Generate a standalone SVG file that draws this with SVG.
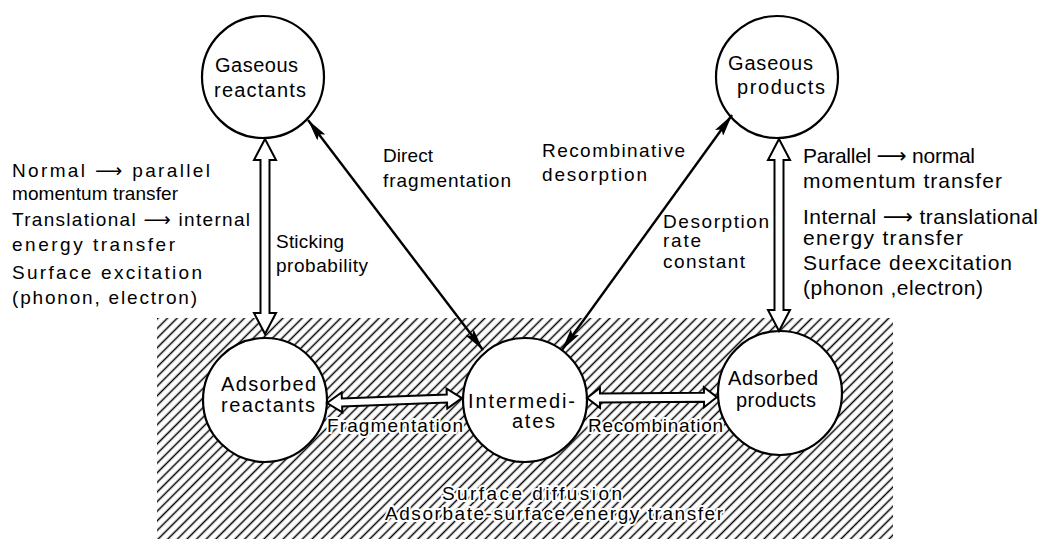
<svg xmlns="http://www.w3.org/2000/svg" width="1041" height="543" viewBox="0 0 1041 543">
<defs>
<pattern id="hatch" width="6.8" height="10" patternUnits="userSpaceOnUse" patternTransform="rotate(45)">
<line x1="3.4" y1="0" x2="3.4" y2="10" stroke="#000" stroke-width="1.5"/>
</pattern>
<marker id="ah" viewBox="0 0 22 10" refX="22" refY="5" markerWidth="22" markerHeight="10" markerUnits="userSpaceOnUse" orient="auto-start-reverse">
<path d="M0,0 L22,5 L0,10 L4,5 z" fill="#000"/>
</marker>
<style>
text{font-family:"Liberation Sans","DejaVu Sans",sans-serif;fill:#000;}
.n{font-size:20px;}
.l{font-size:19px;}
.r{font-size:21px;}
.halo{stroke:#fff;stroke-width:4px;paint-order:stroke;stroke-linejoin:round;}
circle{fill:#fff;stroke:#000;stroke-width:2.2;}
.hollow{fill:#fff;stroke:#000;stroke-width:2;stroke-linejoin:miter;}
.solid{stroke:#000;stroke-width:2.4;fill:none;marker-start:url(#ah);marker-end:url(#ah);}
</style>
</defs>
<rect width="1041" height="543" fill="#fff"/>
<rect id="surface" x="157" y="318" width="736" height="221" fill="url(#hatch)"/>

<g id="gaseous-reactants">
<circle cx="263" cy="77" r="61"/>
<text class="n" x="215" y="72" textLength="83">Gaseous</text>
<text class="n" x="214" y="97" textLength="92">reactants</text>
</g>
<g id="gaseous-products">
<circle cx="777" cy="77" r="61"/>
<text class="n" x="728" y="70" textLength="85">Gaseous</text>
<text class="n" x="737" y="94" textLength="88">products</text>
</g>
<g id="adsorbed-reactants">
<circle cx="265" cy="400" r="62"/>
<text class="n" x="221" y="391" textLength="95">Adsorbed</text>
<text class="n" x="221" y="412" textLength="94">reactants</text>
</g>
<g id="intermediates">
<circle cx="525" cy="400" r="62"/>
<text class="n" x="468" y="408" textLength="107">Intermedi-</text>
<text class="n" x="512" y="428" textLength="43">ates</text>
</g>
<g id="adsorbed-products">
<circle cx="780" cy="393" r="62"/>
<text class="n" x="728" y="385" textLength="90">Adsorbed</text>
<text class="n" x="736" y="407" textLength="80">products</text>
</g>

<g id="connectors">
<polygon class="hollow" points="265,139 276,160 269.5,160 269.5,313 276,313 265,334 254,313 260.5,313 260.5,160 254,160"/>
<polygon class="hollow" points="779,139 790,160 783.5,160 783.5,310 790,310 779,331 768,310 774.5,310 774.5,160 768,160"/>
<polygon class="hollow" transform="translate(327,403) rotate(-2.1)" points="0,0 15,-10 15,-4 120,-4 120,-10 135,0 120,10 120,4 15,4 15,10"/>
<polygon class="hollow" transform="translate(587,398) rotate(-0.4)" points="0,0 13,-10 13,-4.5 117,-4.5 117,-10 130,0 117,10 117,4.5 13,4.5 13,10"/>
<line class="solid" x1="308" y1="120" x2="483" y2="350"/>
<line class="solid" x1="732" y1="115" x2="562" y2="350"/>
</g>

<g id="labels">
<text class="l" x="383" y="162" textLength="50">Direct</text>
<text class="l" x="383" y="187" textLength="128">fragmentation</text>
<text class="l" x="276" y="248" textLength="68">Sticking</text>
<text class="l" x="276" y="272" textLength="92">probability</text>
<text class="l" x="542" y="157" textLength="143">Recombinative</text>
<text class="l" x="542" y="181" textLength="105">desorption</text>
<text class="l" x="663" y="228" textLength="106">Desorption</text>
<text class="l" x="663" y="247" textLength="38">rate</text>
<text class="l" x="663" y="268" textLength="82">constant</text>
<text class="l halo" x="327" y="432" textLength="136">Fragmentation</text>
<text class="l halo" x="588" y="432" textLength="135">Recombination</text>
<text class="l halo" x="442" y="500" textLength="180">Surface diffusion</text>
<text class="l halo" x="385" y="520" textLength="338">Adsorbate-surface energy transfer</text>
</g>

<g id="left-notes">
<text class="l" x="12" y="177" textLength="198">Normal ⟶ parallel</text>
<text class="l" x="12" y="200" textLength="166">momentum transfer</text>
<text class="l" x="12" y="226" textLength="238">Translational ⟶ internal</text>
<text class="l" x="12" y="251" textLength="163">energy transfer</text>
<text class="l" x="12" y="279" textLength="190">Surface excitation</text>
<text class="l" x="12" y="304" textLength="185">(phonon, electron)</text>
</g>
<g id="right-notes">
<text class="r" x="803" y="163" textLength="172">Parallel ⟶ normal</text>
<text class="r" x="803" y="188" textLength="199">momentum transfer</text>
<text class="r" x="803" y="224" textLength="235">Internal ⟶ translational</text>
<text class="r" x="803" y="245" textLength="160">energy transfer</text>
<text class="r" x="803" y="270" textLength="209">Surface deexcitation</text>
<text class="r" x="803" y="295" textLength="180">(phonon ,electron)</text>
</g>
</svg>
